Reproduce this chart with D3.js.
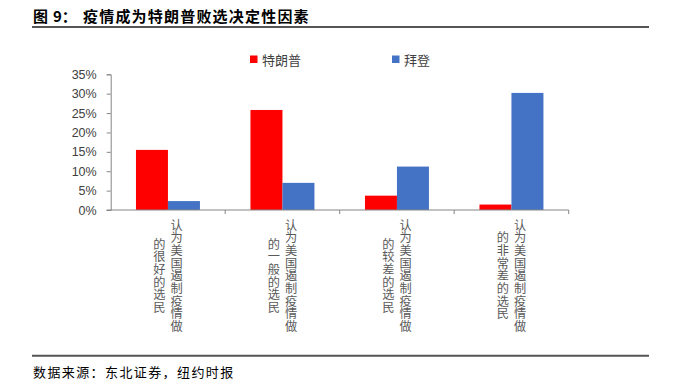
<!DOCTYPE html>
<html>
<head>
<meta charset="utf-8">
<script src="https://cdn.jsdelivr.net/npm/d3@7"></script>
<style>
  body { margin: 0; background: #fff; }
  svg { display: block; }
</style>
</head>
<body>
<script>
// 数据
var categories = ["很好", "一般", "较差", "非常差"];
var catLines = [
  ["认为美国遏制疫情做", "的很好的选民"],
  ["认为美国遏制疫情做", "的一般的选民"],
  ["认为美国遏制疫情做", "的较差的选民"],
  ["认为美国遏制疫情做", "的非常差的选民"]
];
var seriesNames = ["特朗普", "拜登"];
var trump = [0.155, 0.258, 0.037, 0.014];
var biden = [0.023, 0.070, 0.112, 0.302];
var yTicks = [0, 0.05, 0.10, 0.15, 0.20, 0.25, 0.30, 0.35];
var colors = ["#FF0000", "#4472C4"];

var width = 679, height = 380;
var svg = d3.select("body").append("svg")
  .attr("width", width)
  .attr("height", height);

var cjk = "'Noto Sans CJK SC', sans-serif";

// 标题
var title = svg.append("text")
  .attr("y", 22)
  .attr("font-family", cjk)
  .attr("font-weight", "bold")
  .attr("font-size", 15)
  .attr("fill", "#000");
title.append("tspan").attr("x", 33).text("图");
title.append("tspan").attr("x", 53).text("9：");
title.append("tspan").attr("x", 83).attr("letter-spacing", 1.2)
  .text("疫情成为特朗普败选决定性因素");
svg.append("line")
  .attr("x1", 32).attr("x2", 649)
  .attr("y1", 27).attr("y2", 27)
  .attr("stroke", "#555").attr("stroke-width", 2);

// 比例尺
var x0 = d3.scaleBand()
  .domain(categories)
  .range([110.7, 568.7]);
var x1 = d3.scaleBand()
  .domain(seriesNames)
  .range([0, x0.bandwidth()])
  .paddingOuter(0.79);
var y = d3.scaleLinear()
  .domain([0, 0.35])
  .range([210, 74.3]);

// y轴
var yAxis = d3.axisLeft(y)
  .tickValues(yTicks)
  .tickFormat(d3.format(".0%"))
  .tickSize(4)
  .tickPadding(10);
var gy = svg.append("g")
  .attr("transform", "translate(110.7,0)")
  .call(yAxis);
gy.select(".domain").attr("stroke", "#868686");
gy.selectAll(".tick line").attr("stroke", "#868686");
gy.selectAll(".tick text")
  .attr("font-family", "'Liberation Sans', Arial, sans-serif")
  .attr("font-size", 12.5)
  .attr("fill", "#404040");

// 柱子
var data = categories.map(function (c, i) {
  return { cat: c, vals: [trump[i], biden[i]] };
});
var groups = svg.selectAll(".grp")
  .data(data)
  .enter()
  .append("g")
  .attr("class", "grp")
  .attr("transform", function (d) { return "translate(" + x0(d.cat) + ",0)"; });
groups.selectAll("rect")
  .data(function (d) {
    return d.vals.map(function (v, j) { return { s: seriesNames[j], v: v, j: j }; });
  })
  .enter()
  .append("rect")
  .attr("x", function (d) { return x1(d.s); })
  .attr("width", x1.bandwidth())
  .attr("y", function (d) { return y(d.v); })
  .attr("height", function (d) { return y(0) - y(d.v); })
  .attr("fill", function (d) { return colors[d.j]; });

// x轴
var xAxis = svg.append("g");
xAxis.append("line")
  .attr("x1", 106.7).attr("x2", 568.7)
  .attr("y1", y(0)).attr("y2", y(0))
  .attr("stroke", "#868686");
xAxis.selectAll(".xt")
  .data(categories)
  .enter()
  .append("line")
  .attr("class", "xt")
  .attr("x1", function (d) { return x0(d) + x0.bandwidth(); })
  .attr("x2", function (d) { return x0(d) + x0.bandwidth(); })
  .attr("y1", y(0))
  .attr("y2", y(0) + 4)
  .attr("stroke", "#868686");

// 竖排分类标签
var colGap = 17.4, midY = 276;
catLines.forEach(function (lines, i) {
  var cx = x0(categories[i]) + x0.bandwidth() / 2;
  svg.selectAll(null)
    .data(lines)
    .enter()
    .append("text")
    .attr("x", function (d, k) { return cx + colGap / 2 - k * colGap; })
    .attr("y", midY)
    .attr("text-anchor", "middle")
    .style("writing-mode", "vertical-rl")
    .attr("font-family", cjk)
    .attr("font-size", 12.2)
    .attr("letter-spacing", 0.5)
    .attr("fill", "#595959")
    .text(function (d) { return d; });
});

// 图例
var legendX = [250, 392];
var legend = svg.selectAll(".legend")
  .data(seriesNames)
  .enter()
  .append("g")
  .attr("class", "legend")
  .attr("transform", function (d, i) { return "translate(" + legendX[i] + ",55.5)"; });
legend.append("rect")
  .attr("width", 7.5).attr("height", 7.5)
  .attr("fill", function (d, i) { return colors[i]; });
legend.append("text")
  .attr("x", 12)
  .attr("y", 4)
  .attr("dominant-baseline", "central")
  .attr("font-family", cjk)
  .attr("font-size", 13)
  .attr("fill", "#404040")
  .text(function (d) { return d; });

// 底部
svg.append("line")
  .attr("x1", 32).attr("x2", 649)
  .attr("y1", 355.7).attr("y2", 355.7)
  .attr("stroke", "#555").attr("stroke-width", 2);
svg.append("text")
  .attr("x", 33)
  .attr("y", 371)
  .attr("dominant-baseline", "central")
  .attr("font-family", cjk)
  .attr("font-size", 13)
  .attr("letter-spacing", 1.4)
  .attr("fill", "#000")
  .text("数据来源：东北证券，纽约时报");
</script>
</body>
</html>
